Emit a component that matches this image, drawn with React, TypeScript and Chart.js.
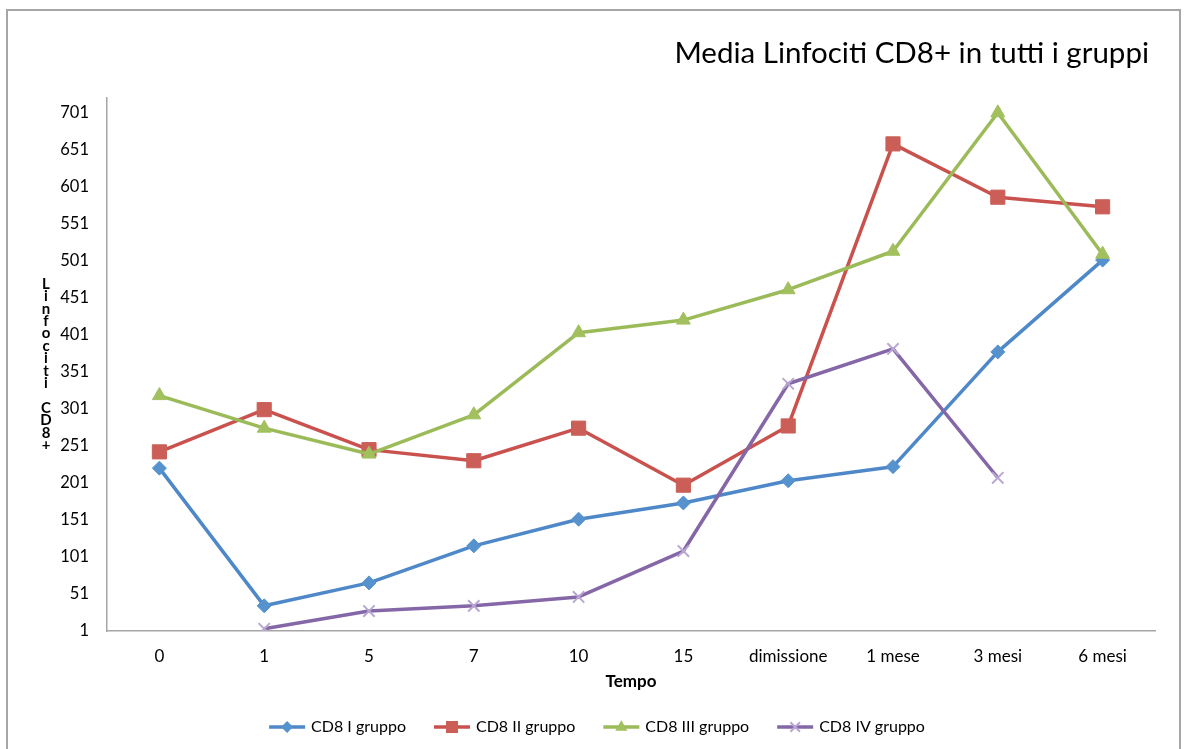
import { useEffect, useRef } from "react";
import { Chart, registerables } from "chart.js";

Chart.register(...registerables);

// Time points and mean CD8+ lymphocyte counts per group
const categories = ["0", "1", "5", "7", "10", "15", "dimissione", "1 mese", "3 mesi", "6 mesi"];
const gruppoI = [221, 35, 66, 116, 152, 174, 204, 223, 378, 502];
const gruppoII = [243, 300, 246, 231, 275, 198, 278, 659, 587, 574];
const gruppoIII = [319, 275, 240, 293, 404, 421, 462, 514, 701, 510];
const gruppoIV = [null, 4, 28, 35, 47, 109, 335, 382, 208, null];
const yTicks = [1, 51, 101, 151, 201, 251, 301, 351, 401, 451, 501, 551, 601, 651, 701];

const seriesNames = ["CD8 I gruppo", "CD8 II gruppo", "CD8 III gruppo", "CD8 IV gruppo"];
const titleText = "Media Linfociti CD8+ in tutti i gruppi";
const yTitleText = "Linfociti CD8+";
const xTitleText = "Tempo";

const FONT = "Lato, 'Open Sans', sans-serif";

type Style = {
  line: string;
  fill: string;
  stroke: string;
  pointStyle: string;
  radius: number;
  pointBorder: number;
};

const styles: Style[] = [
  { line: "#4F88C8", fill: "#5592CE", stroke: "#5592CE", pointStyle: "rectRot", radius: 7, pointBorder: 1 },
  { line: "#C9524E", fill: "#CB5F58", stroke: "#CB5F58", pointStyle: "rect", radius: 10, pointBorder: 1 },
  { line: "#9BBB59", fill: "#A2C05E", stroke: "#A2C05E", pointStyle: "triangle", radius: 8, pointBorder: 1 },
  { line: "#8567A8", fill: "#B9A7D3", stroke: "#B9A7D3", pointStyle: "crossRot", radius: 8, pointBorder: 2 },
];

const LEGEND = { lineLen: 36, gapText: 6, gapItem: 28, centerX: 597, y: 727, font: `16px ${FONT}` };

function legendLayout(ctx: CanvasRenderingContext2D) {
  ctx.font = LEGEND.font;
  const widths = seriesNames.map((n) => ctx.measureText(n).width);
  const total =
    widths.reduce((a, w) => a + LEGEND.lineLen + LEGEND.gapText + w, 0) +
    LEGEND.gapItem * (seriesNames.length - 1);
  const starts: number[] = [];
  let x = LEGEND.centerX - total / 2;
  widths.forEach((w) => {
    starts.push(x);
    x += LEGEND.lineLen + LEGEND.gapText + w + LEGEND.gapItem;
  });
  return starts;
}

function drawMarker(ctx: CanvasRenderingContext2D, style: string, r: number, x: number, y: number) {
  ctx.beginPath();
  if (style === "rectRot") {
    ctx.moveTo(x, y - r);
    ctx.lineTo(x + r, y);
    ctx.lineTo(x, y + r);
    ctx.lineTo(x - r, y);
    ctx.closePath();
    ctx.fill();
  } else if (style === "rect") {
    const s = r * Math.SQRT1_2;
    ctx.rect(x - s, y - s, 2 * s, 2 * s);
    ctx.fill();
  } else if (style === "triangle") {
    ctx.moveTo(x, y - r);
    ctx.lineTo(x + r * 0.9, y + r * 0.55);
    ctx.lineTo(x - r * 0.9, y + r * 0.55);
    ctx.closePath();
    ctx.fill();
  } else {
    const s = r * Math.SQRT1_2;
    ctx.moveTo(x - s, y - s);
    ctx.lineTo(x + s, y + s);
    ctx.moveTo(x + s, y - s);
    ctx.lineTo(x - s, y + s);
    ctx.stroke();
  }
}

const decorations = {
  id: "decorations",
  beforeDraw(chart: any) {
    const ctx = chart.ctx as CanvasRenderingContext2D;
    ctx.save();
    ctx.fillStyle = "#ffffff";
    ctx.fillRect(0, 0, chart.width, chart.height);
    ctx.strokeStyle = "#A6A6A6";
    ctx.lineWidth = 2;
    ctx.strokeRect(7, 10, 1173, 800);
    ctx.restore();
  },
  afterDraw(chart: any) {
    const ctx = chart.ctx as CanvasRenderingContext2D;
    const area = chart.chartArea;
    ctx.save();
    ctx.fillStyle = "#000000";

    // Title, right aligned
    ctx.font = `29.5px ${FONT}`;
    ctx.textAlign = "right";
    ctx.textBaseline = "alphabetic";
    ctx.fillText(titleText, 1149, 63);

    // Vertical axis title, one character per line
    ctx.font = `bold 15px ${FONT}`;
    ctx.textAlign = "center";
    ctx.textBaseline = "middle";
    const chars = Array.from(yTitleText);
    const lh = 12.4;
    const cy = (area.top + area.bottom) / 2;
    const startY = cy - ((chars.length - 1) * lh) / 2;
    chars.forEach((c, i) => {
      if (c !== " ") ctx.fillText(c, 46, startY + i * lh);
    });

    // Horizontal axis title
    ctx.font = `bold 17px ${FONT}`;
    ctx.fillText(xTitleText, (area.left + area.right) / 2, 682);

    // Legend: line sample, marker, series name
    const starts = legendLayout(ctx);
    seriesNames.forEach((name, i) => {
      const s = styles[i];
      const x = starts[i];
      ctx.strokeStyle = s.line;
      ctx.lineWidth = 3.5;
      ctx.beginPath();
      ctx.moveTo(x, LEGEND.y);
      ctx.lineTo(x + LEGEND.lineLen, LEGEND.y);
      ctx.stroke();
      ctx.fillStyle = s.fill;
      ctx.strokeStyle = s.stroke;
      ctx.lineWidth = s.pointBorder;
      drawMarker(ctx, s.pointStyle, s.radius * 0.85, x + LEGEND.lineLen / 2, LEGEND.y);
      ctx.fillStyle = "#000000";
      ctx.font = LEGEND.font;
      ctx.textAlign = "left";
      ctx.textBaseline = "middle";
      ctx.fillText(name, x + LEGEND.lineLen + LEGEND.gapText, LEGEND.y);
    });
    ctx.restore();
  },
};

export default function App() {
  const canvasRef = useRef<HTMLCanvasElement | null>(null);

  useEffect(() => {
    const canvas = canvasRef.current;
    if (!canvas) return;
    const series = [gruppoI, gruppoII, gruppoIII, gruppoIV];
    const chart = new Chart(canvas, {
      type: "line",
      data: {
        labels: categories,
        datasets: series.map((data, i) => ({
          label: seriesNames[i],
          data,
          borderColor: styles[i].line,
          backgroundColor: styles[i].fill,
          borderWidth: 3.5,
          borderJoinStyle: "round" as const,
          pointStyle: styles[i].pointStyle as any,
          pointRadius: styles[i].radius,
          pointBackgroundColor: styles[i].fill,
          pointBorderColor: styles[i].stroke,
          pointBorderWidth: styles[i].pointBorder,
          tension: 0,
          spanGaps: false,
          order: 4 - i,
        })),
      },
      options: {
        responsive: false,
        animation: false,
        devicePixelRatio: 1,
        layout: { padding: { top: 98, right: 30, left: 0, bottom: 0 } },
        plugins: {
          legend: { display: false },
          title: { display: false },
          tooltip: { enabled: false },
        },
        scales: {
          x: {
            type: "category",
            offset: true,
            grid: { display: false, drawTicks: false },
            border: { display: true, color: "#A6A6A6", width: 1.5 },
            ticks: {
              color: "#000000",
              font: { family: FONT, size: 17 },
              padding: 15,
              maxRotation: 0,
              autoSkip: false,
            },
            afterFit(scale: any) {
              scale.height = 118;
            },
          },
          y: {
            min: 1,
            max: 721,
            grid: { display: false, drawTicks: false },
            border: { display: true, color: "#A6A6A6", width: 1.5 },
            ticks: {
              color: "#000000",
              font: { family: FONT, size: 16.5 },
              padding: 18,
            },
            afterBuildTicks(scale: any) {
              scale.ticks = yTicks.map((v) => ({ value: v }));
            },
            afterFit(scale: any) {
              scale.width = 107;
            },
          },
        },
      },
      plugins: [decorations],
    });
    return () => chart.destroy();
  }, []);

  return (
    <div style={{ position: "fixed", left: 0, top: 0, width: 1185, height: 749, background: "#fff" }}>
      <canvas ref={canvasRef} width={1185} height={749} />
    </div>
  );
}
